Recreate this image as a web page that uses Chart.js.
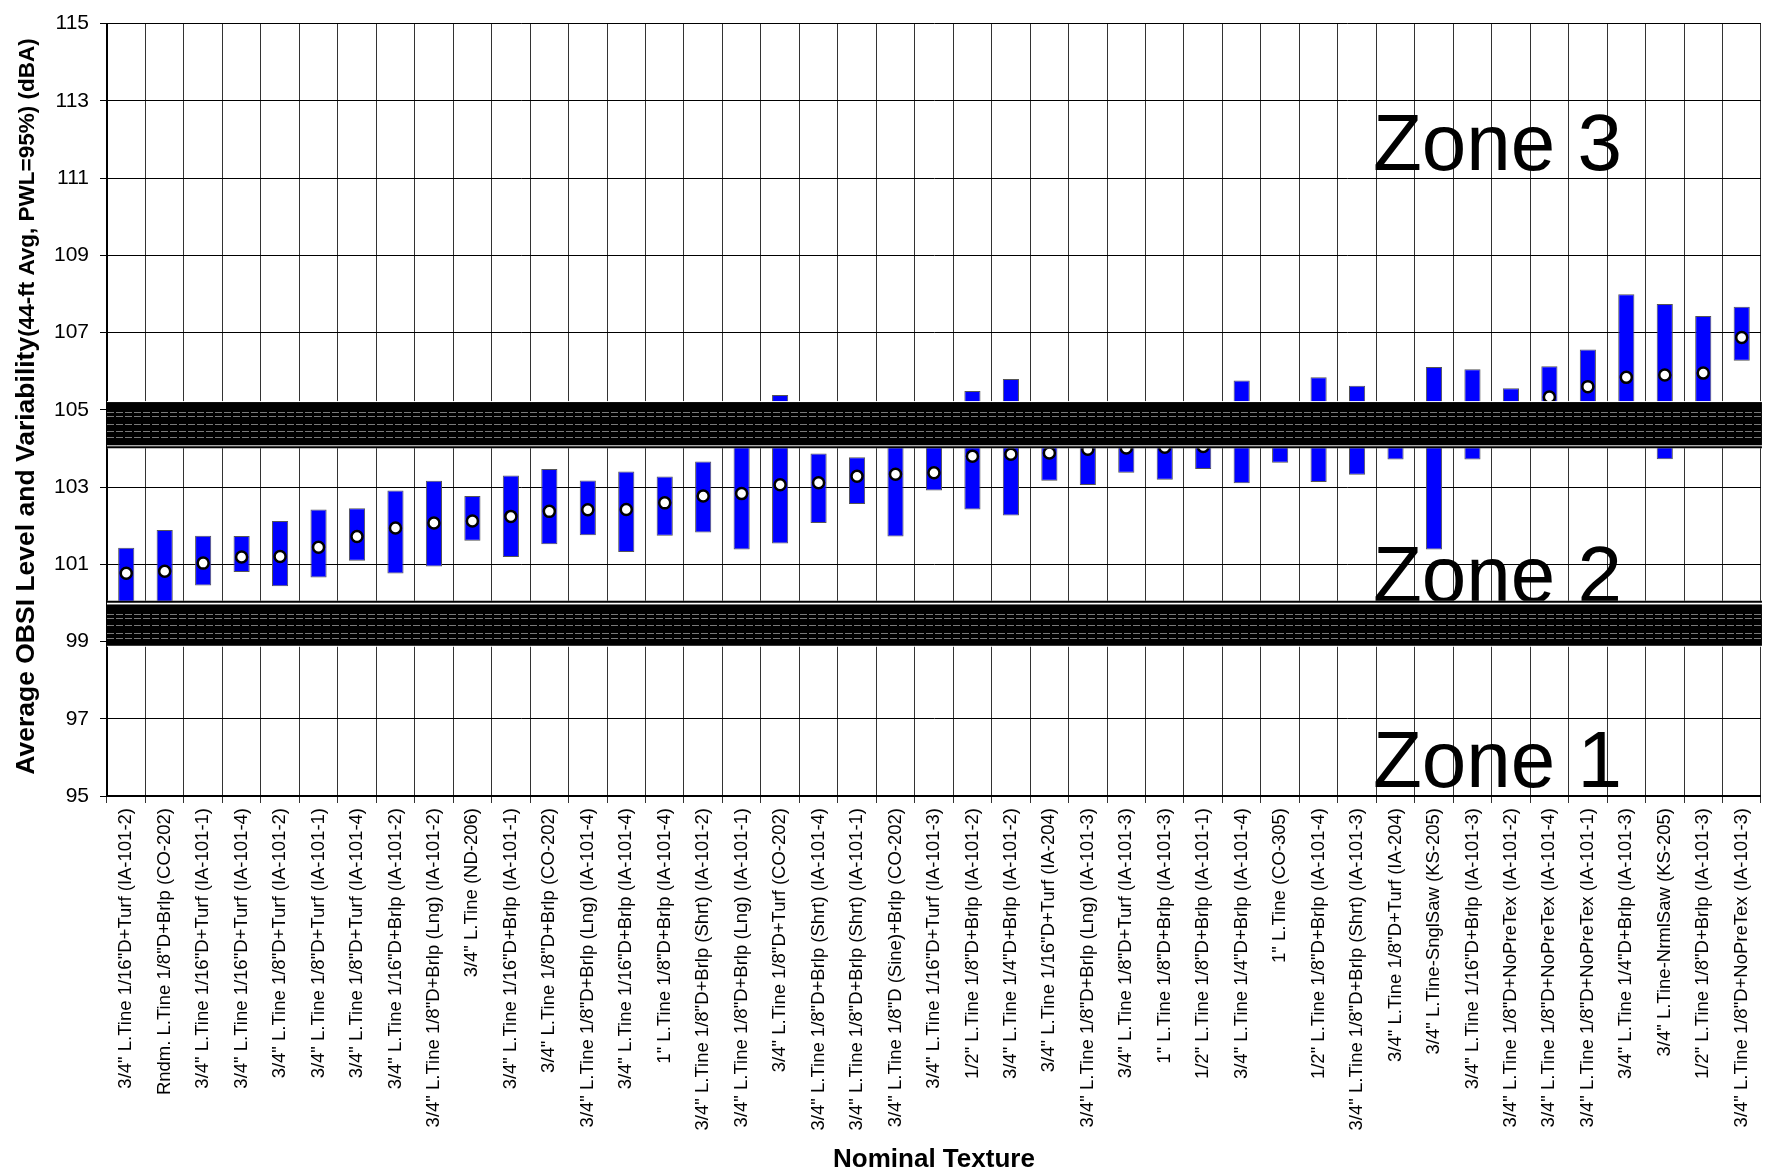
<!DOCTYPE html>
<html>
<head>
<meta charset="utf-8">
<script src="https://cdn.jsdelivr.net/npm/chart.js@4.4.1/dist/chart.umd.min.js"></script>
<style>
    html, body { margin: 0; padding: 0; background: #fff; }
    #wrap { width: 1769px; height: 1174px; }
</style>
</head>
<body>
<div id="wrap"><canvas id="obsi-chart" width="1769" height="1174"></canvas></div>
<script>
// Nominal textures, in plotted order
const textures = [
    '3/4" L.Tine 1/16"D+Turf (IA-101-2)',
    'Rndm. L.Tine 1/8"D+Brlp (CO-202)',
    '3/4" L.Tine 1/16"D+Turf (IA-101-1)',
    '3/4" L.Tine 1/16"D+Turf (IA-101-4)',
    '3/4" L.Tine 1/8"D+Turf (IA-101-2)',
    '3/4" L.Tine 1/8"D+Turf (IA-101-1)',
    '3/4" L.Tine 1/8"D+Turf (IA-101-4)',
    '3/4" L.Tine 1/16"D+Brlp (IA-101-2)',
    '3/4" L.Tine 1/8"D+Brlp (Lng) (IA-101-2)',
    '3/4" L.Tine (ND-206)',
    '3/4" L.Tine 1/16"D+Brlp (IA-101-1)',
    '3/4" L.Tine 1/8"D+Brlp (CO-202)',
    '3/4" L.Tine 1/8"D+Brlp (Lng) (IA-101-4)',
    '3/4" L.Tine 1/16"D+Brlp (IA-101-4)',
    '1" L.Tine 1/8"D+Brlp (IA-101-4)',
    '3/4" L.Tine 1/8"D+Brlp (Shrt) (IA-101-2)',
    '3/4" L.Tine 1/8"D+Brlp (Lng) (IA-101-1)',
    '3/4" L.Tine 1/8"D+Turf (CO-202)',
    '3/4" L.Tine 1/8"D+Brlp (Shrt) (IA-101-4)',
    '3/4" L.Tine 1/8"D+Brlp (Shrt) (IA-101-1)',
    '3/4" L.Tine 1/8"D (Sine)+Brlp (CO-202)',
    '3/4" L.Tine 1/16"D+Turf (IA-101-3)',
    '1/2" L.Tine 1/8"D+Brlp (IA-101-2)',
    '3/4" L.Tine 1/4"D+Brlp (IA-101-2)',
    '3/4" L.Tine 1/16"D+Turf (IA-204)',
    '3/4" L.Tine 1/8"D+Brlp (Lng) (IA-101-3)',
    '3/4" L.Tine 1/8"D+Turf (IA-101-3)',
    '1" L.Tine 1/8"D+Brlp (IA-101-3)',
    '1/2" L.Tine 1/8"D+Brlp (IA-101-1)',
    '3/4" L.Tine 1/4"D+Brlp (IA-101-4)',
    '1" L.Tine (CO-305)',
    '1/2" L.Tine 1/8"D+Brlp (IA-101-4)',
    '3/4" L.Tine 1/8"D+Brlp (Shrt) (IA-101-3)',
    '3/4" L.Tine 1/8"D+Turf (IA-204)',
    '3/4" L.Tine-SnglSaw (KS-205)',
    '3/4" L.Tine 1/16"D+Brlp (IA-101-3)',
    '3/4" L.Tine 1/8"D+NoPreTex (IA-101-2)',
    '3/4" L.Tine 1/8"D+NoPreTex (IA-101-4)',
    '3/4" L.Tine 1/8"D+NoPreTex (IA-101-1)',
    '3/4" L.Tine 1/4"D+Brlp (IA-101-3)',
    '3/4" L.Tine-NrmlSaw (KS-205)',
    '1/2" L.Tine 1/8"D+Brlp (IA-101-3)',
    '3/4" L.Tine 1/8"D+NoPreTex (IA-101-3)'
];

// Variability range (low / high) and average OBSI level, dBA
const obsi_low = [
    99.8, 99.8, 100.45, 100.80, 100.43, 100.66, 101.09, 100.76, 100.94, 101.61,
    101.19, 101.52, 101.75, 101.32, 101.74, 101.82, 101.38, 101.54, 102.07, 102.56,
    101.72, 102.91, 102.42, 102.26, 103.16, 103.05, 103.37, 103.19, 103.47, 103.10,
    103.63, 103.13, 103.32, 103.71, 101.38, 103.71, 104.30, 104.50, 104.60, 104.20,
    103.72, 104.40, 106.27
];
const obsi_high = [
    101.43, 101.89, 101.74, 101.73, 102.12, 102.42, 102.45, 102.91, 103.16, 102.77,
    103.30, 103.47, 103.17, 103.40, 103.27, 103.66, 104.30, 105.38, 103.87, 103.77,
    104.90, 104.10, 105.49, 105.80, 104.50, 104.70, 104.60, 104.80, 104.60, 105.76,
    104.90, 105.84, 105.62, 105.00, 106.11, 106.05, 105.56, 106.13, 106.56, 107.99,
    107.74, 107.43, 107.67
];
const obsi_avg = [
    100.77, 100.82, 101.03, 101.19, 101.20, 101.44, 101.72, 101.94, 102.07, 102.12,
    102.24, 102.37, 102.41, 102.42, 102.59, 102.77, 102.83, 103.06, 103.11, 103.28,
    103.33, 103.37, 103.80, 103.85, 103.88, 103.98, 104.01, 104.03, 104.05, 104.40,
    104.30, 104.50, 104.45, 104.40, 104.30, 104.60, 104.90, 105.33, 105.60, 105.84,
    105.90, 105.95, 106.87
];

// Zone boundary bands (dBA) and zone labels
const band_ranges = [[104.08, 105.2], [98.89, 99.96]];
const band_edges = [104.03, 100.03];
const zone_labels = ["Zone 3", "Zone 2", "Zone 1"];
const zone_baselines = [111.22, 100.02, 95.23];

const y_min = 95;
const y_max = 115;
const y_step = 2;

const font_family = '"Liberation Sans", Arial, Helvetica, sans-serif';

// zone labels sit under the bars, bands sit on top of everything
const zonePlugin = {
    id: "zones",
    beforeDatasetsDraw(chart) {
        const ctx = chart.ctx;
        const y = chart.scales.y;
        ctx.save();
        ctx.fillStyle = "#000";
        ctx.font = "80px " + font_family;
        ctx.textAlign = "left";
        ctx.textBaseline = "alphabetic";
        for (let i = 0; i < zone_labels.length; i ++) {
            ctx.fillText(zone_labels[i], 1373, y.getPixelForValue(zone_baselines[i]));
        }
        ctx.restore();
    },
    afterDatasetsDraw(chart) {
        const ctx = chart.ctx;
        const area = chart.chartArea;
        const y = chart.scales.y;
        ctx.save();
        for (let i = 0; i < band_ranges.length; i ++) {
            const top = y.getPixelForValue(band_ranges[i][1]);
            const bottom = y.getPixelForValue(band_ranges[i][0]);
            const edge = y.getPixelForValue(band_edges[i]);
            // white gap between the band and its edge line
            const y0 = Math.min(top, edge) - 1;
            const y1 = Math.max(bottom, edge) + 1;
            ctx.fillStyle = "#fff";
            ctx.fillRect(area.left, y0, area.width, y1 - y0);
            ctx.fillStyle = "#000";
            ctx.fillRect(area.left - 1, top, area.width + 2, bottom - top);
            ctx.fillRect(area.left - 1, edge - 1, area.width + 2, 2);
            // faint dashed strokes inside the band
            ctx.strokeStyle = "#7a7a7a";
            ctx.lineWidth = 1;
            ctx.setLineDash([7, 2]);
            const fracs = [0.24, 0.33, 0.5, 0.68, 0.8];
            for (let f of fracs) {
                const yy = Math.round(top + (bottom - top) * f) + 0.5;
                ctx.beginPath();
                ctx.moveTo(area.left, yy);
                ctx.lineTo(area.right, yy);
                ctx.stroke();
            }
            ctx.setLineDash([]);
        }
        ctx.restore();
    },
    afterDraw(chart) {
        const ctx = chart.ctx;
        const area = chart.chartArea;
        ctx.save();
        ctx.fillStyle = "#000";

        // x axis title
        ctx.font = "bold 26px " + font_family;
        ctx.textAlign = "center";
        ctx.textBaseline = "alphabetic";
        ctx.fillText("Nominal Texture", (area.left + area.right) / 2, 1167);

        // y axis title in two sizes
        const main_text = "Average OBSI Level and Variability";
        const sub_text = "(44-ft Avg, PWL=95%) (dBA)";
        ctx.font = "bold 26.5px " + font_family;
        const w1 = ctx.measureText(main_text).width;
        ctx.font = "bold 22.5px " + font_family;
        const w2 = ctx.measureText(sub_text).width;
        const centre = (42 + 771) / 2;
        ctx.translate(34, centre + (w1 + w2) / 2);
        ctx.rotate(-Math.PI / 2);
        ctx.textAlign = "left";
        ctx.font = "bold 26.5px " + font_family;
        ctx.fillText(main_text, 0, 0);
        ctx.font = "bold 22.5px " + font_family;
        ctx.fillText(sub_text, w1, 0);
        ctx.restore();
    }
};

const range_data = [];
for (let i = 0; i < textures.length; i ++) {
    range_data.push([obsi_low[i], obsi_high[i]]);
}

const config = {
    type: "bar",
    data: {
        labels: textures,
        datasets: [{
            type: "line",
            label: "Average",
            data: obsi_avg,
            showLine: false,
            pointRadius: 5.5,
            pointBorderWidth: 2.5,
            pointBackgroundColor: "#fff",
            pointBorderColor: "#000",
            order: 0
        },
        {
            label: "Variability",
            data: range_data,
            backgroundColor: "#0000ff",
            borderColor: "#555",
            borderWidth: 1,
            borderSkipped: false,
            barPercentage: 0.42,
            categoryPercentage: 1.0,
            order: 1
        }]
    },
    options: {
        responsive: false,
        animation: false,
        events: [],
        layout: {
            padding: { top: 19, right: 7, left: 0, bottom: 0 }
        },
        plugins: {
            legend: { display: false },
            tooltip: { enabled: false }
        },
        scales: {
            x: {
                offset: true,
                grid: {
                    offset: true,
                    color: "#333",
                    lineWidth: 1,
                    tickLength: 7,
                    drawTicks: true
                },
                border: { color: "#000", width: 2 },
                ticks: {
                    autoSkip: false,
                    maxRotation: 90,
                    minRotation: 90,
                    padding: 5,
                    color: "#000",
                    font: { family: font_family, size: 18.5 }
                },
                afterFit(scale) {
                    scale.height = 1174 - 796;
                }
            },
            y: {
                min: y_min,
                max: y_max,
                grid: {
                    color: "#000",
                    lineWidth: 1,
                    tickLength: 7
                },
                border: { color: "#000", width: 2 },
                ticks: {
                    stepSize: y_step,
                    padding: 11,
                    color: "#000",
                    font: { family: font_family, size: 21 }
                },
                afterFit(scale) {
                    scale.width = 107;
                }
            }
        }
    },
    plugins: [zonePlugin]
};

const ctx = document.getElementById("obsi-chart").getContext("2d");
const obsi_chart = new Chart(ctx, config);
</script>
</body>
</html>
